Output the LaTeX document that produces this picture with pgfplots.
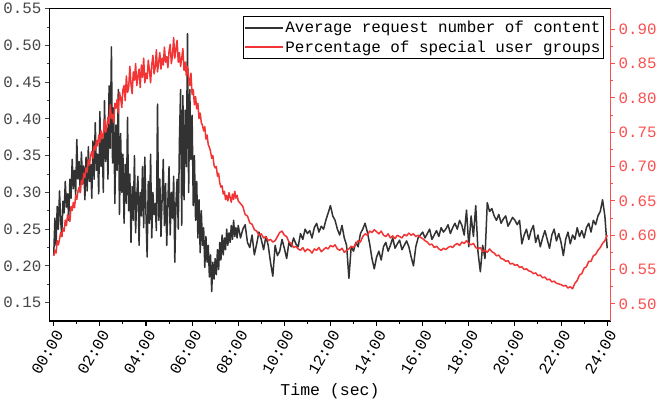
\documentclass[border=0pt]{standalone}
\usepackage{pgfplots}
\pgfplotsset{compat=1.18}
\usepackage{fontspec}
\setmainfont{Liberation Mono}
\definecolor{lblack}{RGB}{50,50,50}
\definecolor{lred}{RGB}{242,52,52}
\definecolor{axred}{RGB}{250,80,80}
\definecolor{axgray}{RGB}{70,70,70}
\begin{document}
\begin{tikzpicture}
\pgfplotsset{
  every axis/.append style={
    width=558bp, height=311bp, scale only axis,
    xmin=-0.17, xmax=24.13,
    tick align=outside,
    major tick length=5bp, minor tick length=3bp,
    every tick/.style={line width=1.1bp},
    every minor tick/.style={line width=1bp},
  },
}
\begin{axis}[
  ymin=0.125, ymax=0.55,
  axis line style={line width=1.3bp, color=black},
  xtick={0,2,...,24},
  xticklabels={00:00,02:00,04:00,06:00,08:00,10:00,12:00,14:00,16:00,18:00,20:00,22:00,24:00},
  minor x tick num=1,
  xtick pos=bottom,
  ytick={0.15,0.20,0.25,0.30,0.35,0.40,0.45,0.50,0.55},
  yticklabels={0.15,0.20,0.25,0.30,0.35,0.40,0.45,0.50,0.55},
  minor y tick num=1,
  ytick pos=left,
  y tick style={axgray},
  yticklabel style={font=\fontsize{15.8}{16}\selectfont, text=axgray},
  xticklabel style={font=\fontsize{16}{16}\selectfont, rotate=60, anchor=north east, inner sep=2bp},
  xlabel={Time (sec)},
  xlabel style={font=\fontsize{16.5}{17}\selectfont, yshift=-1bp},
]
\addplot[lblack, line width=1.5bp, line join=round] coordinates {
(0.00,0.215)(0.05,0.265)(0.10,0.228)(0.15,0.281)(0.20,0.250)(0.25,0.302)(0.30,0.262)(0.35,0.240)(0.40,0.288)(0.45,0.272)
(0.50,0.315)(0.55,0.280)(0.60,0.298)(0.65,0.262)(0.70,0.318)(0.75,0.292)(0.80,0.345)(0.85,0.305)(0.90,0.330)(0.95,0.296)
(1.00,0.372)(1.05,0.318)(1.10,0.342)(1.15,0.300)(1.20,0.355)(1.25,0.312)(1.30,0.336)(1.35,0.290)(1.40,0.348)(1.45,0.302)
(1.50,0.362)(1.55,0.315)(1.60,0.338)(1.65,0.292)(1.70,0.370)(1.75,0.318)(1.80,0.395)(1.85,0.330)(1.90,0.352)(1.95,0.298)
(2.00,0.410)(2.05,0.335)(2.10,0.372)(2.15,0.300)(2.20,0.425)(2.25,0.342)(2.30,0.388)(2.35,0.318)(2.40,0.445)(2.45,0.360)
(2.50,0.498)(2.55,0.340)(2.60,0.415)(2.65,0.285)(2.70,0.392)(2.75,0.330)(2.80,0.440)(2.85,0.270)(2.90,0.380)(2.95,0.300)
(3.00,0.352)(3.05,0.258)(3.10,0.338)(3.15,0.285)(3.20,0.402)(3.25,0.275)(3.30,0.325)(3.35,0.232)(3.40,0.308)(3.45,0.262)
(3.50,0.350)(3.55,0.245)(3.60,0.295)(3.65,0.322)(3.70,0.228)(3.75,0.300)(3.80,0.268)(3.85,0.335)(3.90,0.252)(3.95,0.348)
(4.00,0.270)(4.05,0.212)(4.10,0.315)(4.15,0.258)(4.20,0.352)(4.25,0.238)(4.30,0.300)(4.35,0.270)(4.40,0.285)(4.45,0.248)
(4.50,0.420)(4.55,0.262)(4.60,0.318)(4.65,0.240)(4.70,0.292)(4.75,0.345)(4.80,0.255)(4.85,0.312)(4.90,0.228)(4.95,0.288)
(5.00,0.335)(5.05,0.242)(5.10,0.300)(5.15,0.265)(5.20,0.322)(5.25,0.205)(5.30,0.285)(5.35,0.318)(5.40,0.250)(5.45,0.370)
(5.50,0.440)(5.55,0.255)(5.60,0.432)(5.65,0.290)(5.70,0.412)(5.75,0.335)(5.80,0.516)(5.85,0.300)(5.90,0.440)(5.95,0.345)
(6.00,0.405)(6.05,0.282)(6.10,0.350)(6.15,0.262)(6.20,0.315)(6.25,0.238)(6.30,0.290)(6.35,0.218)(6.40,0.275)(6.45,0.228)
(6.50,0.252)(6.55,0.198)(6.60,0.240)(6.65,0.205)(6.70,0.228)(6.75,0.185)(6.80,0.215)(6.85,0.165)(6.90,0.205)(6.95,0.182)
(7.00,0.210)(7.05,0.188)(7.10,0.222)(7.15,0.195)(7.20,0.232)(7.25,0.208)(7.30,0.242)(7.35,0.215)(7.40,0.238)(7.45,0.222)
(7.50,0.250)(7.55,0.228)(7.60,0.245)(7.65,0.232)(7.70,0.255)(7.75,0.236)(7.80,0.262)(7.85,0.240)(7.90,0.252)(7.95,0.238)
(8.0,0.255)(8.1,0.238)(8.2,0.250)(8.3,0.256)(8.4,0.232)(8.5,0.225)(8.6,0.242)(8.7,0.215)(8.8,0.230)(8.9,0.246)
(9.0,0.236)(9.1,0.222)(9.2,0.240)(9.3,0.228)(9.4,0.205)(9.5,0.186)(9.6,0.228)(9.7,0.214)(9.8,0.220)(9.9,0.236)
(10.0,0.224)(10.1,0.210)(10.2,0.232)(10.3,0.226)(10.4,0.238)(10.5,0.230)(10.6,0.226)(10.7,0.244)(10.8,0.236)(10.9,0.250)
(11.0,0.244)(11.1,0.248)(11.2,0.238)(11.3,0.252)(11.4,0.258)(11.5,0.246)(11.6,0.254)(11.7,0.250)(11.8,0.262)(11.9,0.272)
(12.0,0.282)(12.1,0.268)(12.2,0.262)(12.3,0.250)(12.4,0.242)(12.5,0.255)(12.6,0.238)(12.7,0.228)(12.8,0.183)(12.9,0.226)
(13.0,0.220)(13.1,0.232)(13.2,0.226)(13.3,0.244)(13.4,0.250)(13.5,0.258)(13.6,0.246)(13.7,0.230)(13.8,0.210)(13.9,0.196)
(14.0,0.212)(14.1,0.220)(14.2,0.208)(14.3,0.226)(14.4,0.232)(14.5,0.220)(14.6,0.228)(14.7,0.238)(14.8,0.224)(14.9,0.230)
(15.0,0.235)(15.1,0.222)(15.2,0.228)(15.3,0.234)(15.4,0.226)(15.5,0.212)(15.6,0.200)(15.7,0.226)(15.8,0.238)(15.9,0.242)
(16.0,0.246)(16.1,0.238)(16.2,0.244)(16.3,0.250)(16.4,0.236)(16.5,0.242)(16.6,0.248)(16.7,0.240)(16.8,0.252)(16.9,0.246)
(17.0,0.250)(17.1,0.256)(17.2,0.244)(17.3,0.252)(17.4,0.258)(17.5,0.250)(17.6,0.262)(17.7,0.255)(17.8,0.242)(17.9,0.276)
(18.0,0.226)(18.1,0.268)(18.2,0.240)(18.3,0.282)(18.4,0.218)(18.5,0.192)(18.6,0.228)(18.7,0.210)(18.8,0.286)(18.9,0.274)
(19.0,0.278)(19.1,0.268)(19.2,0.262)(19.3,0.270)(19.4,0.258)(19.5,0.264)(19.6,0.268)(19.7,0.254)(19.8,0.260)(19.9,0.266)
(20.0,0.262)(20.1,0.256)(20.2,0.262)(20.3,0.230)(20.4,0.242)(20.5,0.250)(20.6,0.236)(20.7,0.248)(20.8,0.255)(20.9,0.232)
(21.0,0.242)(21.1,0.226)(21.2,0.238)(21.3,0.248)(21.4,0.236)(21.5,0.224)(21.6,0.242)(21.7,0.250)(21.8,0.234)(21.9,0.244)
(22.0,0.232)(22.1,0.214)(22.2,0.236)(22.3,0.246)(22.4,0.230)(22.5,0.242)(22.6,0.236)(22.7,0.252)(22.8,0.240)(22.9,0.248)
(23.0,0.238)(23.1,0.252)(23.2,0.258)(23.3,0.246)(23.4,0.262)(23.5,0.256)(23.6,0.268)(23.7,0.274)(23.8,0.290)(23.9,0.268)
(24.0,0.224)
};
\end{axis}
\begin{axis}[
  ymin=0.475, ymax=0.93,
  axis x line=none,
  axis y line*=right,
  y axis line style={line width=1.3bp, color=axred},
  y tick style={axred},
  ytick={0.50,0.55,0.60,0.65,0.70,0.75,0.80,0.85,0.90},
  yticklabels={0.50,0.55,0.60,0.65,0.70,0.75,0.80,0.85,0.90},
  minor y tick num=1,
  yticklabel style={font=\fontsize{15.8}{16}\selectfont, text=axred},
  legend style={at={(rel axis cs:0.989,0.977)}, anchor=north east,
    font=\fontsize{15.9}{16}\selectfont, draw=black, line width=1.1bp,
    inner xsep=1bp, inner ysep=3bp, row sep=2bp, cells={anchor=west}},
  legend image code/.code={\draw[#1, line width=1.2bp] (0bp,0bp) -- (38bp,0bp);},
]
\addlegendimage{lblack}
\addlegendentry{Average request number of content}
\addplot[lred, line width=1.5bp, line join=round] coordinates {
(0.00,0.570)(0.05,0.578)(0.10,0.574)(0.15,0.592)(0.20,0.586)(0.25,0.594)(0.30,0.604)(0.35,0.598)(0.40,0.610)(0.45,0.606)
(0.50,0.622)(0.55,0.614)(0.60,0.630)(0.65,0.626)(0.70,0.620)(0.75,0.642)(0.80,0.636)(0.85,0.648)(0.90,0.640)(0.95,0.658)
(1.00,0.652)(1.05,0.664)(1.10,0.670)(1.15,0.662)(1.20,0.680)(1.25,0.674)(1.30,0.690)(1.35,0.684)(1.40,0.698)(1.45,0.692)
(1.50,0.710)(1.55,0.702)(1.60,0.716)(1.65,0.722)(1.70,0.712)(1.75,0.730)(1.80,0.724)(1.85,0.738)(1.90,0.730)(1.95,0.746)
(2.00,0.735)(2.05,0.752)(2.10,0.741)(2.15,0.746)(2.20,0.768)(2.25,0.750)(2.30,0.758)(2.35,0.772)(2.40,0.762)(2.45,0.790)
(2.50,0.770)(2.55,0.776)(2.60,0.764)(2.65,0.792)(2.70,0.785)(2.75,0.798)(2.80,0.778)(2.85,0.808)(2.90,0.800)(2.95,0.786)
(3.00,0.812)(3.05,0.818)(3.10,0.796)(3.15,0.832)(3.20,0.808)(3.25,0.815)(3.30,0.846)(3.35,0.820)(3.40,0.806)(3.45,0.838)
(3.50,0.826)(3.55,0.850)(3.60,0.818)(3.65,0.832)(3.70,0.842)(3.75,0.815)(3.80,0.848)(3.85,0.830)(3.90,0.858)(3.95,0.822)
(4.00,0.836)(4.05,0.828)(4.10,0.855)(4.15,0.840)(4.20,0.822)(4.25,0.848)(4.30,0.862)(4.35,0.835)(4.40,0.845)(4.45,0.870)
(4.50,0.838)(4.55,0.852)(4.60,0.866)(4.65,0.842)(4.70,0.858)(4.75,0.848)(4.80,0.874)(4.85,0.852)(4.90,0.860)(4.95,0.844)
(5.00,0.868)(5.05,0.878)(5.10,0.850)(5.15,0.862)(5.20,0.888)(5.25,0.858)(5.30,0.872)(5.35,0.884)(5.40,0.852)(5.45,0.866)
(5.50,0.846)(5.55,0.858)(5.60,0.872)(5.65,0.840)(5.70,0.852)(5.75,0.832)(5.80,0.846)(5.85,0.828)(5.90,0.818)(5.95,0.836)
(6.00,0.805)(6.05,0.812)(6.10,0.790)(6.15,0.802)(6.20,0.784)(6.25,0.792)(6.30,0.770)(6.35,0.778)(6.40,0.764)(6.45,0.760)
(6.50,0.752)(6.55,0.758)(6.60,0.740)(6.65,0.746)(6.70,0.732)(6.75,0.728)(6.80,0.722)(6.85,0.712)(6.90,0.716)(6.95,0.702)
(7.00,0.698)(7.05,0.700)(7.10,0.686)(7.15,0.690)(7.20,0.676)(7.25,0.670)(7.30,0.672)(7.35,0.660)(7.40,0.664)(7.45,0.652)
(7.50,0.658)(7.55,0.650)(7.60,0.662)(7.65,0.655)(7.70,0.648)(7.75,0.660)(7.80,0.652)(7.85,0.664)(7.90,0.654)(7.95,0.658)
(8.0,0.650)(8.1,0.646)(8.2,0.642)(8.3,0.630)(8.4,0.628)(8.5,0.618)(8.6,0.616)(8.7,0.608)(8.8,0.606)(8.9,0.600)
(9.0,0.602)(9.1,0.596)(9.2,0.598)(9.3,0.592)(9.4,0.594)(9.5,0.590)(9.6,0.592)(9.7,0.598)(9.8,0.604)(9.9,0.606)
(10.0,0.600)(10.1,0.598)(10.2,0.590)(10.3,0.588)(10.4,0.582)(10.5,0.584)(10.6,0.580)(10.7,0.578)(10.8,0.582)(10.9,0.576)
(11.0,0.580)(11.1,0.578)(11.2,0.574)(11.3,0.580)(11.4,0.578)(11.5,0.582)(11.6,0.576)(11.7,0.579)(11.8,0.582)(11.9,0.580)
(12.0,0.585)(12.1,0.583)(12.2,0.586)(12.3,0.580)(12.4,0.578)(12.5,0.581)(12.6,0.575)(12.7,0.578)(12.8,0.580)(12.9,0.584)
(13.0,0.582)(13.1,0.588)(13.2,0.592)(13.3,0.590)(13.4,0.598)(13.5,0.602)(13.6,0.600)(13.7,0.606)(13.8,0.604)(13.9,0.608)
(14.0,0.605)(14.1,0.602)(14.2,0.606)(14.3,0.600)(14.4,0.598)(14.5,0.602)(14.6,0.596)(14.7,0.599)(14.8,0.595)(14.9,0.600)
(15.0,0.598)(15.1,0.596)(15.2,0.601)(15.3,0.599)(15.4,0.603)(15.5,0.600)(15.6,0.602)(15.7,0.598)(15.8,0.600)(15.9,0.597)
(16.0,0.595)(16.1,0.592)(16.2,0.590)(16.3,0.586)(16.4,0.587)(16.5,0.582)(16.6,0.584)(16.7,0.580)(16.8,0.578)(16.9,0.581)
(17.0,0.579)(17.1,0.582)(17.2,0.584)(17.3,0.582)(17.4,0.586)(17.5,0.588)(17.6,0.585)(17.7,0.590)(17.8,0.588)(17.9,0.592)
(18.0,0.588)(18.1,0.586)(18.2,0.588)(18.3,0.582)(18.4,0.580)(18.5,0.582)(18.6,0.576)(18.7,0.578)(18.8,0.575)(18.9,0.580)
(19.0,0.576)(19.1,0.574)(19.2,0.570)(19.3,0.571)(19.4,0.566)(19.5,0.565)(19.6,0.562)(19.7,0.563)(19.8,0.558)(19.9,0.559)
(20.0,0.556)(20.1,0.557)(20.2,0.553)(20.3,0.554)(20.4,0.550)(20.5,0.551)(20.6,0.548)(20.7,0.547)(20.8,0.544)(20.9,0.545)
(21.0,0.541)(21.1,0.542)(21.2,0.538)(21.3,0.539)(21.4,0.535)(21.5,0.536)(21.6,0.532)(21.7,0.533)(21.8,0.530)(21.9,0.529)
(22.0,0.528)(22.1,0.526)(22.2,0.527)(22.3,0.523)(22.4,0.525)(22.5,0.522)(22.6,0.530)(22.7,0.534)(22.8,0.542)(22.9,0.544)
(23.0,0.552)(23.1,0.554)(23.2,0.562)(23.3,0.562)(23.4,0.570)(23.5,0.572)(23.6,0.578)(23.7,0.582)(23.8,0.588)(23.9,0.592)
(24.0,0.600)
};
\addlegendentry{Percentage of special user groups}
\end{axis}
\end{tikzpicture}
\end{document}
